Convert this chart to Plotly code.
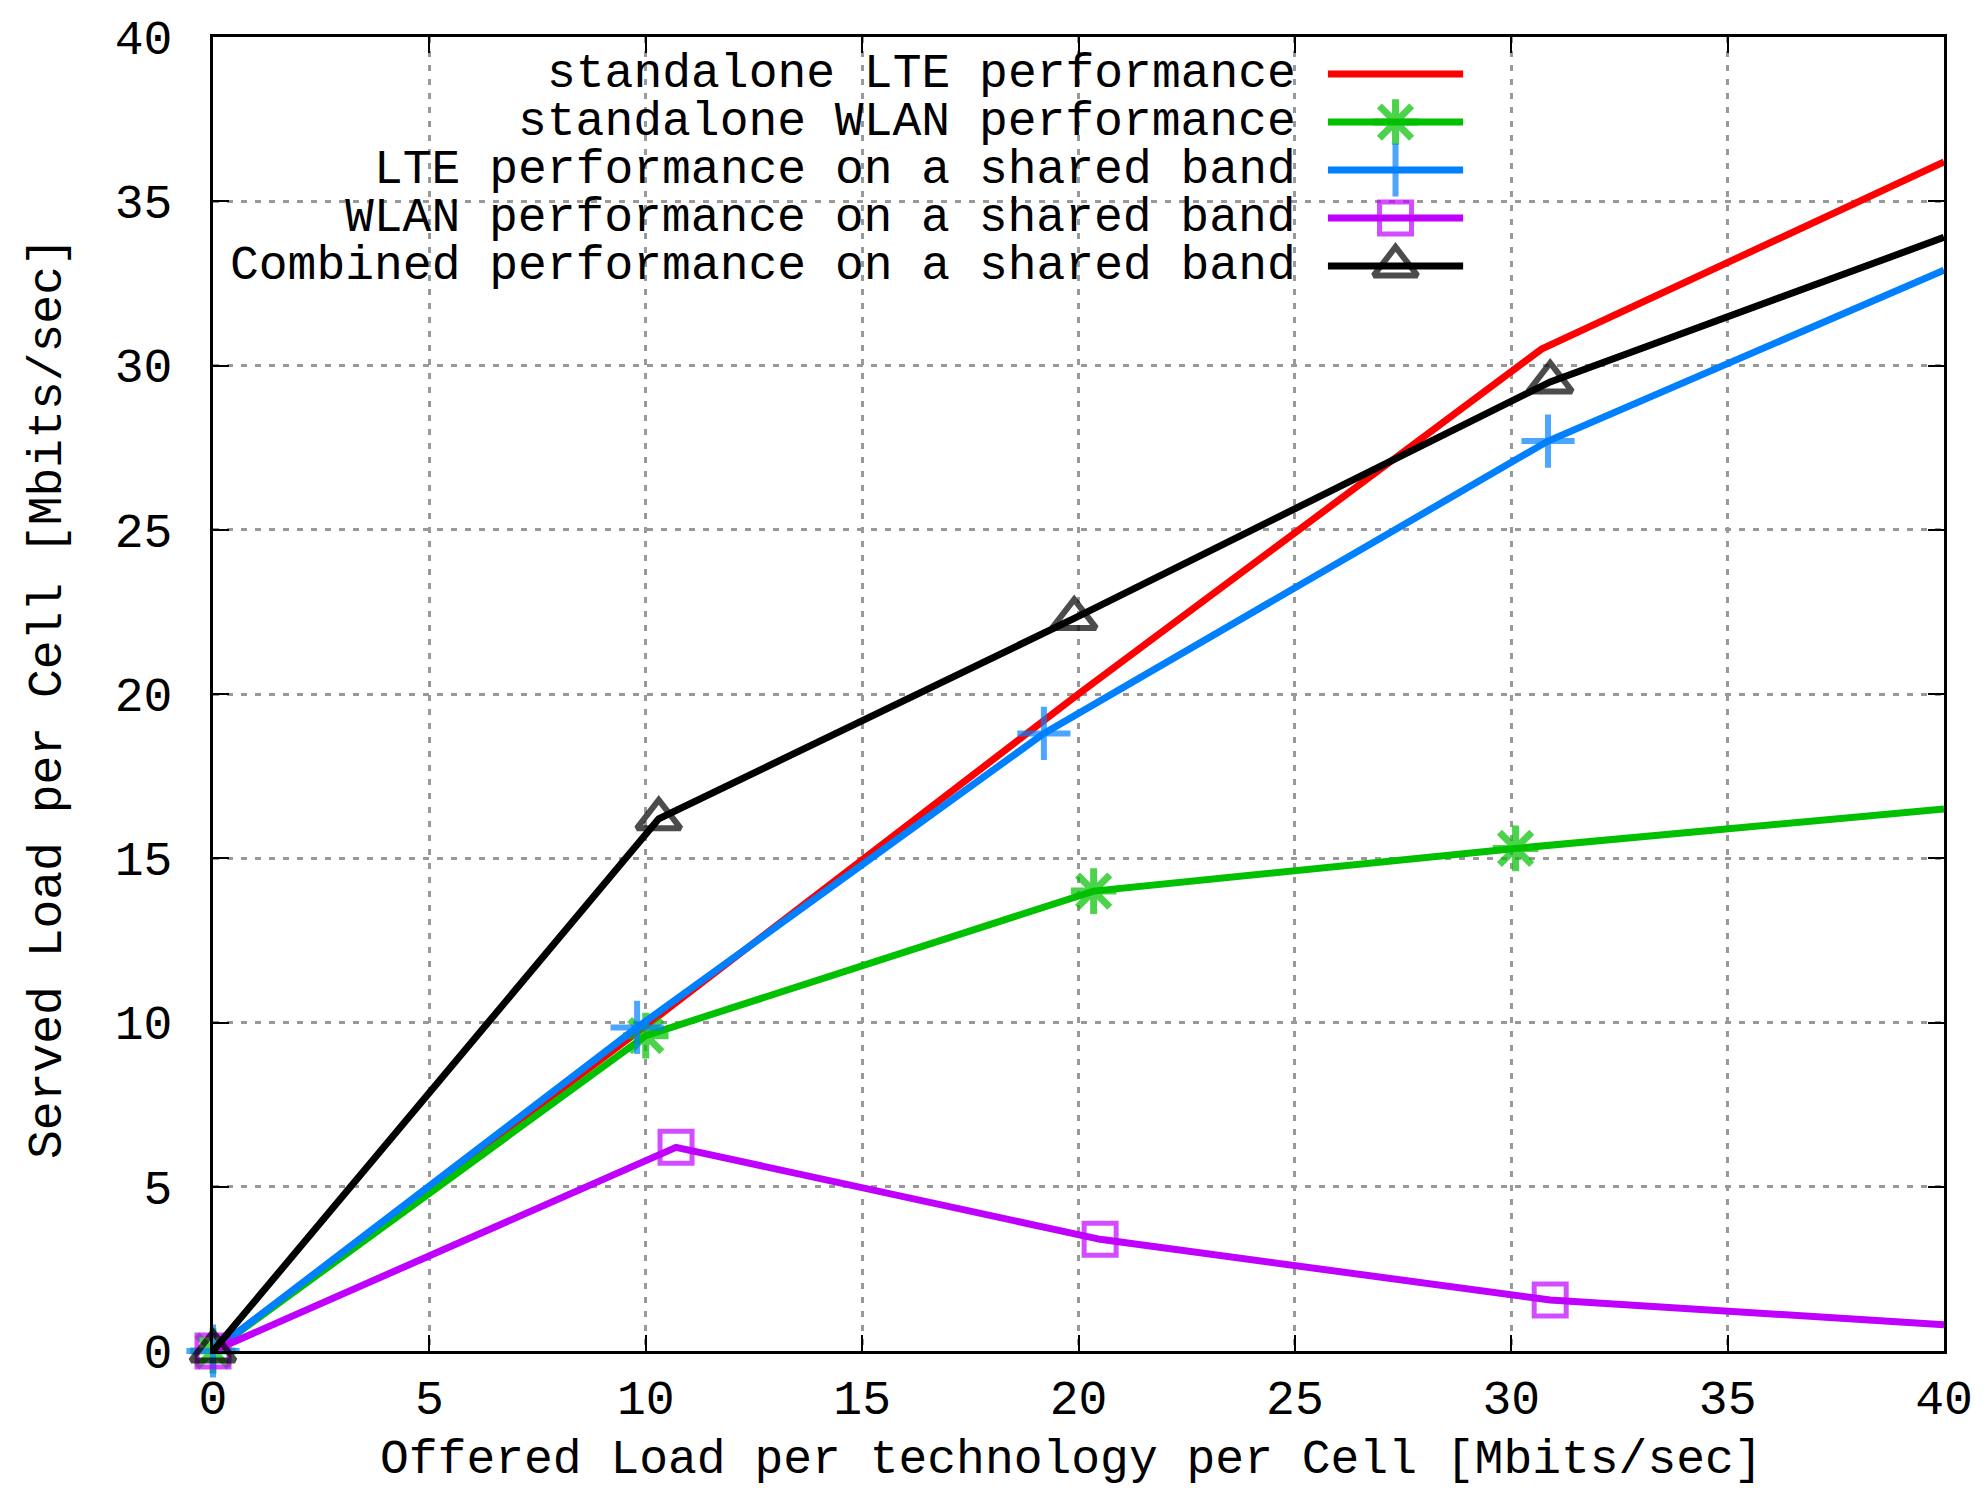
import plotly.graph_objects as go

# ---- data ----
lte_alone_x = [0, 10, 20, 30.7, 40]
lte_alone_y = [0, 9.9, 20.0, 30.5, 36.2]

wlan_alone_x = [0, 10, 20.35, 30.1, 40]
wlan_alone_y = [0, 9.6, 14.0, 15.3, 16.5]

lte_shared_x = [0, 9.8, 19.2, 30.85, 40]
lte_shared_y = [0, 9.85, 18.8, 27.7, 32.9]

wlan_shared_x = [0, 10.7, 20.5, 30.9, 40]
wlan_shared_y = [0, 6.2, 3.4, 1.55, 0.8]

comb_x = [0, 10.3, 19.9, 30.9, 40]
comb_y = [0, 16.2, 22.3, 29.5, 33.9]

names = [
    "standalone LTE performance",
    "standalone WLAN performance",
    "LTE performance on a shared band",
    "WLAN performance on a shared band",
    "Combined performance on a shared band",
]
colors = ["#ff0000", "#00c000", "#0080ff", "#c000ff", "#000000"]
symbols = [None, "asterisk-open", "cross-thin-open", "square-open", "triangle-up-open"]
msizes = [0, 38, 38, 32, 38]
mlw = [0, 7, 6, 5, 6]

x_ticks = [0, 5, 10, 15, 20, 25, 30, 35, 40]
y_ticks = [0, 5, 10, 15, 20, 25, 30, 35, 40]

FONT = "Liberation Mono"
FS = 48
LW = 7

series = [
    (lte_alone_x, lte_alone_y),
    (wlan_alone_x, wlan_alone_y),
    (lte_shared_x, lte_shared_y),
    (wlan_shared_x, wlan_shared_y),
    (comb_x, comb_y),
]

fig = go.Figure()
for i, (xs, ys) in enumerate(series):
    if symbols[i] is None:
        fig.add_trace(go.Scatter(x=xs, y=ys, mode="lines",
                                 line=dict(color=colors[i], width=LW),
                                 showlegend=False, cliponaxis=False))
    else:
        sizes = [msizes[i]] * (len(xs) - 1) + [0]
        fig.add_trace(go.Scatter(x=xs, y=ys, mode="lines+markers",
                                 line=dict(color=colors[i], width=LW),
                                 marker=dict(symbol=symbols[i], size=sizes,
                                             color=colors[i],
                                             line=dict(color=colors[i], width=mlw[i])),
                                 showlegend=False, cliponaxis=False))

# ---- custom gnuplot-style key (text right-aligned, sample on the right) ----
key_rows = [0.9718, 0.9353, 0.8988, 0.8623, 0.8257]
key_x0, key_x1, key_txt = 0.6441, 0.7222, 0.6268
annotations = []
for i, name in enumerate(names):
    yy = key_rows[i]
    sz = 0 if symbols[i] is None else msizes[i]
    fig.add_trace(go.Scatter(
        x=[key_x0, (key_x0 + key_x1) / 2, key_x1], y=[yy, yy, yy],
        xaxis="x2", yaxis="y2", mode="lines+markers",
        line=dict(color=colors[i], width=LW),
        marker=dict(symbol=symbols[i] or "circle", size=[0, sz, 0],
                    color=colors[i], line=dict(color=colors[i], width=mlw[i])),
        showlegend=False, cliponaxis=False, hoverinfo="skip"))
    annotations.append(dict(x=key_txt, y=yy, xref="paper", yref="paper",
                            text=name, showarrow=False, xanchor="right",
                            yanchor="middle",
                            font=dict(family=FONT, size=FS, color="black")))

# axis titles as annotations for exact placement
annotations.append(dict(x=0.4957, y=-0.0828, xref="paper", yref="paper",
                        text="Offered Load per technology per Cell [Mbits/sec]",
                        showarrow=False, xanchor="center", yanchor="middle",
                        font=dict(family=FONT, size=FS, color="black")))
annotations.append(dict(x=-0.0953, y=0.497, xref="paper", yref="paper",
                        text="Served Load per Cell [Mbits/sec]", textangle=-90,
                        showarrow=False, xanchor="center", yanchor="middle",
                        font=dict(family=FONT, size=FS, color="black")))

axis_common = dict(
    showline=True, linecolor="black", linewidth=3, mirror="ticks",
    ticks="inside", ticklen=16, tickwidth=2, tickcolor="black",
    showgrid=True, gridcolor="#999999", gridwidth=2.5, griddash="6px,8px",
    zeroline=False, tickfont=dict(family=FONT, size=FS, color="black"),
    tickmode="array", automargin=False,
)

fig.update_layout(
    width=1987, height=1488,
    margin=dict(l=205, r=51, t=29, b=145),
    paper_bgcolor="white", plot_bgcolor="white",
    showlegend=False,
    font=dict(family=FONT, size=FS, color="black"),
    xaxis=dict(range=[0, 40], tickvals=x_ticks,
               ticktext=[str(v) for v in x_ticks],
               ticklabelstandoff=2, **axis_common),
    yaxis=dict(range=[0, 40], tickvals=y_ticks,
               ticktext=[str(v) for v in y_ticks],
               ticklabelstandoff=28, **axis_common),
    xaxis2=dict(range=[0, 1], overlaying="x", visible=False, fixedrange=True),
    yaxis2=dict(range=[0, 1], overlaying="y", visible=False, fixedrange=True),
    annotations=annotations,
)

fig.write_html("out.html")
